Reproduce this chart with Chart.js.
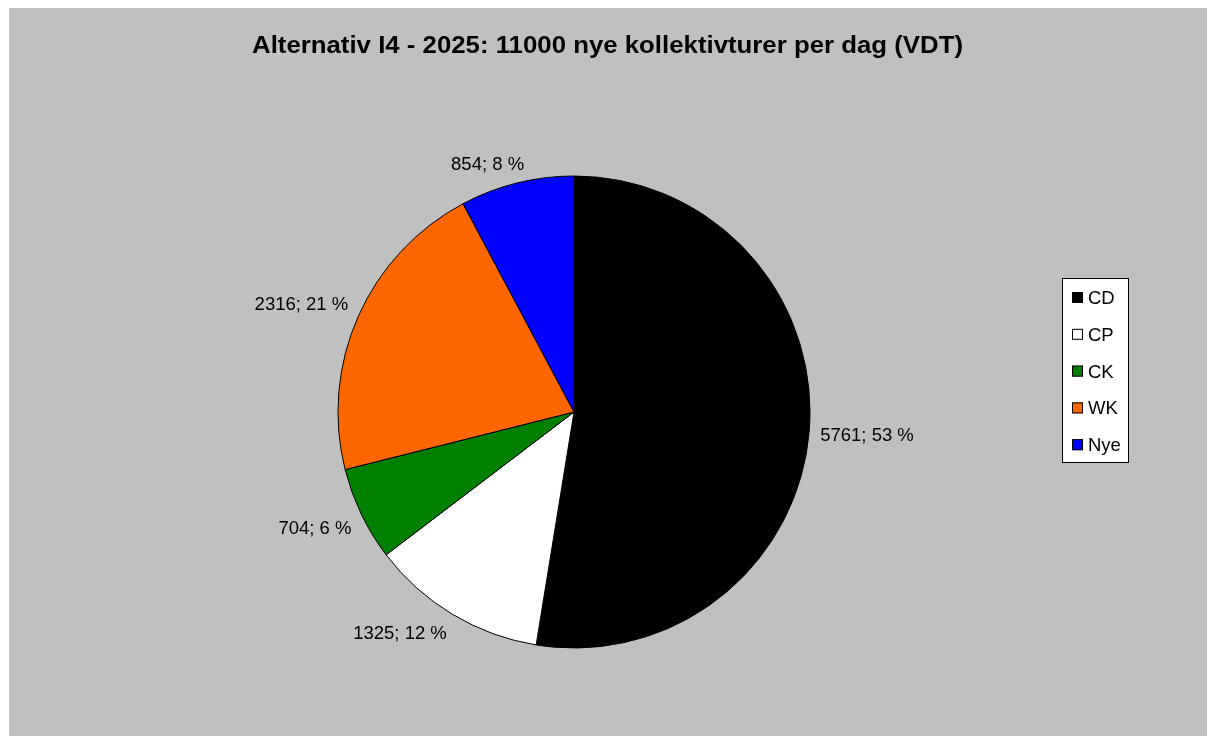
<!DOCTYPE html>
<html>
<head>
<meta charset="utf-8">
<script src="https://cdn.jsdelivr.net/npm/chart.js@4"></script>
<style>
  html, body { margin: 0; padding: 0; background: #ffffff; }
  #wrap { position: absolute; left: 9px; top: 8px; width: 1198px; height: 728px; background: #c0c0c0; }
  canvas { display: block; }
</style>
</head>
<body>
<div id="wrap"><canvas id="c" width="1198" height="728"></canvas></div>
<script>
const titleText = 'Alternativ I4 - 2025: 11000 nye kollektivturer per dag (VDT)';
const categories = ['CD', 'CP', 'CK', 'WK', 'Nye'];
const values = [5761, 1325, 704, 2316, 854];
const colors = ['#000000', '#ffffff', '#008000', '#ff6600', '#0000ff'];

const FONT = '"Liberation Sans", Arial, sans-serif';

const overlay = {
  id: 'overlay',
  afterDraw(chart) {
    const ctx = chart.ctx;
    const total = values.reduce((a, b) => a + b, 0);
    ctx.save();
    // title
    ctx.font = 'bold 23.5px ' + FONT;
    ctx.fillStyle = '#000';
    ctx.textBaseline = 'alphabetic';
    ctx.textAlign = 'center';
    const tw = ctx.measureText(titleText).width;
    const targetW = 711;
    const sx = targetW / tw;
    ctx.save();
    ctx.translate(598.5, 45);
    ctx.scale(sx, 1);
    ctx.fillText(titleText, 0, 0);
    ctx.restore();

    // data labels
    const fs = 18.5;
    ctx.font = fs + 'px ' + FONT;
    const capH = 0.716 * fs;
    const meta = chart.getDatasetMeta(0);
    meta.data.forEach((arc, i) => {
      const a = (arc.startAngle + arc.endAngle) / 2;
      const dx = Math.cos(a), dy = Math.sin(a);
      const rr = arc.outerRadius + 11;
      const px = arc.x + rr * dx, py = arc.y + rr * dy;
      const txt = values[i] + '; ' + Math.round(values[i] / total * 100) + ' %';
      const w = ctx.measureText(txt).width;
      const h = 17;
      const s1 = Math.max(-1, Math.min(1, 3 * dx));
      const s2 = Math.max(-1, Math.min(1, 3 * dy));
      const cx = px + s1 * w / 2, cy = py + s2 * h / 2;
      ctx.textAlign = 'center';
      ctx.fillText(txt, cx, cy + capH / 2);
    });

    // legend
    const lx = 1053, ly = 270, lw = 67, lh = 185;
    ctx.fillStyle = '#ffffff';
    ctx.fillRect(lx, ly, lw, lh);
    ctx.strokeStyle = '#000';
    ctx.lineWidth = 1;
    ctx.strokeRect(lx + 0.5, ly + 0.5, lw - 1, lh - 1);
    ctx.textAlign = 'left';
    categories.forEach((c, i) => {
      const base = 296 + i * 36.8;
      ctx.fillStyle = colors[i];
      ctx.fillRect(1063, base - 12, 11, 11);
      ctx.strokeStyle = '#000';
      ctx.strokeRect(1063.5, base - 11.5, 10, 10);
      ctx.fillStyle = '#000';
      ctx.fillText(c, 1079, base);
    });
    ctx.restore();
  }
};

new Chart(document.getElementById('c'), {
  type: 'pie',
  data: {
    labels: categories,
    datasets: [{
      data: values,
      backgroundColor: colors,
      borderColor: '#000000',
      borderWidth: 1,
      radius: 236
    }]
  },
  options: {
    responsive: false,
    animation: false,
    layout: { padding: { left: 329, right: 397, top: 168, bottom: 88 } },
    plugins: {
      legend: { display: false },
      tooltip: { enabled: false },
      title: { display: false }
    }
  },
  plugins: [overlay]
});
</script>
</body>
</html>
